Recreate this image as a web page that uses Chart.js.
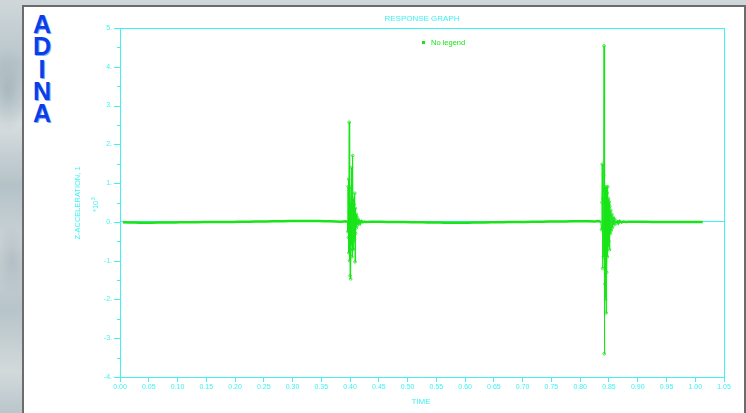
<!DOCTYPE html>
<html>
<head>
<meta charset="utf-8">
<script src="https://cdn.jsdelivr.net/npm/chart.js@4.4.1/dist/chart.umd.min.js"></script>
<style>
  html, body { margin: 0; padding: 0; }
  body {
    width: 746px; height: 413px; overflow: hidden; position: relative;
    background:
      radial-gradient(ellipse 30px 60px at 8px 90px, rgba(140,160,170,0.5), rgba(140,160,170,0) 70%),
      radial-gradient(ellipse 25px 50px at 12px 260px, rgba(150,168,176,0.45), rgba(150,168,176,0) 70%),
      linear-gradient(180deg, #cfd7da 0%, #b9c6cb 15%, #d6dddf 30%, #b4c2c7 45%, #cdd5d8 60%, #b7c4c9 75%, #d2d9db 90%, #bac6cb 100%);
  }
  #panel {
    position: absolute; left: 22px; top: 5px; width: 720px; height: 420px;
    background: #ffffff; border: 2px solid #6c6c6c;
  }
  #logo {
    position: absolute; left: 31px; top: 13px; width: 22px;
    font: bold 25px "Liberation Sans", Arial, sans-serif; line-height: 22.3px;
    color: #0b3fe6; text-align: center;
    text-shadow: 1px 1px 0 #7fa6ff;
  }
  #c { position: absolute; left: 0; top: 0; }
</style>
</head>
<body>
<div id="panel"></div>
<div id="logo">A<br>D<br>I<br>N<br>A</div>
<canvas id="c" width="746" height="413"></canvas>
<script>
// Response history: time (s) and Z-acceleration (in units of 10^3)
const timeSec = [
  0.005, 0.015, 0.025, 0.035, 0.045, 0.055, 0.065, 0.075, 0.085, 0.095,
  0.105, 0.115, 0.125, 0.135, 0.145, 0.155, 0.165, 0.175, 0.185, 0.195,
  0.205, 0.215, 0.225, 0.235, 0.245, 0.255, 0.265, 0.275, 0.285, 0.295,
  0.305, 0.315, 0.325, 0.335, 0.345, 0.355, 0.365, 0.375, 0.385, 0.392,
  // first impact
  0.3955, 0.3960, 0.3964, 0.3970, 0.3975, 0.3980, 0.3985, 0.3990, 0.3995, 0.4000,
  0.4005, 0.4011, 0.4017, 0.4023, 0.4028, 0.4034, 0.4040, 0.4046, 0.4052, 0.4058,
  0.4064, 0.4070, 0.4076, 0.4082, 0.4086, 0.4092, 0.4098, 0.4105, 0.4112, 0.4120,
  0.4130, 0.4140, 0.4152, 0.4165, 0.4180, 0.4200, 0.4225, 0.4250, 0.4270,
  0.435, 0.445, 0.455, 0.465, 0.475, 0.485, 0.495, 0.505, 0.515, 0.525,
  0.535, 0.545, 0.555, 0.565, 0.575, 0.585, 0.595, 0.605, 0.615, 0.625,
  0.635, 0.645, 0.655, 0.665, 0.675, 0.685, 0.695, 0.705, 0.715, 0.725,
  0.735, 0.745, 0.755, 0.765, 0.775, 0.785, 0.795, 0.805, 0.815, 0.825, 0.832,
  // second impact
  0.8360, 0.8370, 0.8378, 0.8383, 0.8390, 0.8396, 0.8403, 0.8409, 0.8414, 0.8418,
  0.8424, 0.8430, 0.8436, 0.8442, 0.8445, 0.8450, 0.8456, 0.8462, 0.8468, 0.8474,
  0.8480, 0.8486, 0.8492, 0.8498, 0.8504, 0.8510, 0.8516, 0.8524, 0.8532, 0.8540,
  0.8550, 0.8560, 0.8572, 0.8585, 0.8600, 0.8620, 0.8640, 0.8665, 0.8690, 0.8720,
  0.8750, 0.8790,
  0.885, 0.895, 0.905, 0.915, 0.925, 0.935, 0.945, 0.955, 0.965, 0.975,
  0.985, 0.995, 1.005, 1.013
];
const accelZ = [
  -0.010, -0.015, -0.018, -0.020, -0.020, -0.019, -0.018, -0.016, -0.015, -0.013,
  -0.012, -0.010, -0.009, -0.008, -0.006, -0.005, -0.004, -0.003, -0.002, 0.000,
  0.002, 0.004, 0.006, 0.008, 0.010, 0.012, 0.014, 0.016, 0.018, 0.020,
  0.021, 0.022, 0.022, 0.021, 0.020, 0.018, 0.016, 0.010, 0.004, 0.015,
  // first impact
  0.00, -0.25, 0.91, -0.40, 1.10, -0.80, 2.57, -1.00, 0.60, -1.39,
  0.50, -1.47, 0.90, -0.60, 1.40, -0.90, -0.72, 1.71, -0.70, 0.60,
  -0.50, 0.45, -0.45, 0.74, -1.03, 0.35, -0.30, 0.20, -0.15, 0.12,
  -0.08, 0.07, -0.05, 0.04, -0.03, 0.02, -0.01, 0.01, 0.00,
  0.004, 0.003, 0.002, 0.000, -0.002, -0.004, -0.006, -0.008, -0.010, -0.012,
  -0.014, -0.016, -0.018, -0.019, -0.020, -0.020, -0.020, -0.019, -0.018, -0.016,
  -0.014, -0.012, -0.010, -0.008, -0.006, -0.004, -0.002, 0.000, 0.002, 0.004,
  0.006, 0.008, 0.010, 0.012, 0.013, 0.014, 0.015, 0.015, 0.014, 0.012, 0.020,
  // second impact
  0.00, -0.20, 0.50, 1.49, -1.20, 0.60, -0.90, 1.20, 4.54, -3.40,
  0.80, -1.60, 0.90, -2.00, 0.70, -2.35, 0.90, -1.30, 0.75, -0.90,
  0.91, -0.64, 0.60, -0.50, 0.52, -0.72, 0.40, -0.30, 0.30, -0.22,
  0.20, -0.15, 0.12, -0.08, 0.07, -0.05, 0.04, -0.03, 0.02, -0.015,
  0.01, 0.00,
  0.004, 0.003, 0.002, 0.001, 0.000, -0.001, -0.002, -0.003, -0.003, -0.004,
  -0.004, -0.004, -0.003, -0.002
];
const xTicks = { min: 0, max: 1.05, step: 0.05 };
const yTicks = { min: -4, max: 5, step: 0.5 };

const CYAN = '#3ef2f2';
const GREEN = '#18e418';
const FONT = '"Liberation Sans", Arial, sans-serif';

const points = timeSec.map((t, i) => ({ x: t, y: accelZ[i] }));
const quiet = v => Math.abs(v) < 0.05;

// Frame, short tick marks and annotation text drawn around the plot
const decorations = {
  id: 'decorations',
  afterDraw(chart) {
    const { ctx, chartArea: a, scales } = chart;
    const ys = scales.y;
    ctx.save();
    ctx.strokeStyle = CYAN;
    ctx.lineWidth = 1;
    ctx.beginPath();
    ctx.moveTo(a.left, a.top + 0.5); ctx.lineTo(a.right + 0.5, a.top + 0.5);
    ctx.moveTo(a.right + 0.5, a.top); ctx.lineTo(a.right + 0.5, a.bottom);
    // y tick marks: long at whole units, short at halves
    ys.ticks.forEach(t => {
      const py = Math.round(ys.getPixelForValue(t.value)) + 0.5;
      const len = Number.isInteger(t.value) ? 6 : 3;
      ctx.moveTo(a.left - len, py); ctx.lineTo(a.left, py);
    });
    ctx.stroke();

    ctx.fillStyle = CYAN;
    ctx.textAlign = 'center';
    ctx.textBaseline = 'middle';
    ctx.font = '8px ' + FONT;
    ctx.fillText('RESPONSE GRAPH', 422, 19);
    ctx.fillText('TIME', 421, 402);

    // legend entry
    ctx.fillStyle = GREEN;
    ctx.fillRect(422, 41, 3, 3);
    ctx.textAlign = 'left';
    ctx.font = '7.5px ' + FONT;
    ctx.fillText(chart.data.datasets[0].label, 431, 42.5);

    // rotated y-axis title and multiplier
    ctx.fillStyle = CYAN;
    ctx.save();
    ctx.translate(78, 203);
    ctx.rotate(-Math.PI / 2);
    ctx.textAlign = 'center';
    ctx.font = '7.5px ' + FONT;
    ctx.fillText('Z-ACCELERATION, 1', 0, 0);
    ctx.restore();
    ctx.save();
    ctx.translate(96, 212);
    ctx.rotate(-Math.PI / 2);
    ctx.textAlign = 'left';
    ctx.font = '7.5px ' + FONT;
    ctx.fillText('*10', 0, 0);
    const w = ctx.measureText('*10').width;
    ctx.font = '5.5px ' + FONT;
    ctx.fillText('3', w + 0.5, -3);
    ctx.restore();
    ctx.restore();
  }
};

new Chart(document.getElementById('c'), {
  type: 'line',
  data: {
    datasets: [{
      label: 'No legend',
      data: points,
      borderColor: GREEN,
      borderWidth: 1,
      tension: 0,
      pointRadius: ctx => (ctx.raw && !quiet(ctx.raw.y) ? 1.3 : 0),
      pointStyle: 'circle',
      pointBackgroundColor: 'rgba(0,0,0,0)',
      pointBorderColor: GREEN,
      pointBorderWidth: 0.8,
      segment: {
        borderWidth: s => (quiet(s.p0.parsed.y) && quiet(s.p1.parsed.y) ? 2.5 : 1)
      }
    }]
  },
  options: {
    responsive: false,
    animation: false,
    devicePixelRatio: 1,
    layout: { padding: { left: 0, right: 22, top: 28, bottom: 0 } },
    plugins: { legend: { display: false }, tooltip: { enabled: false }, title: { display: false } },
    scales: {
      x: {
        type: 'linear',
        min: xTicks.min, max: xTicks.max,
        afterFit: s => { s.height = 36; },
        border: { display: true, color: CYAN, width: 1 },
        grid: { drawOnChartArea: false, drawTicks: true, tickLength: 5, color: CYAN },
        ticks: {
          stepSize: xTicks.step, color: CYAN, padding: 1, maxRotation: 0, autoSkip: false,
          font: { family: FONT, size: 7 },
          callback: v => v.toFixed(2)
        }
      },
      y: {
        type: 'linear',
        min: yTicks.min, max: yTicks.max,
        afterFit: s => { s.width = 120; },
        border: { display: true, color: CYAN, width: 1 },
        grid: {
          drawTicks: false,
          color: c => (c.tick && c.tick.value === 0 ? CYAN : 'rgba(0,0,0,0)')
        },
        ticks: {
          stepSize: yTicks.step, color: CYAN, padding: 8, autoSkip: false,
          font: { family: FONT, size: 7 },
          callback: v => (Number.isInteger(v) ? v + '.' : '')
        }
      }
    }
  },
  plugins: [decorations]
});
</script>
</body>
</html>
